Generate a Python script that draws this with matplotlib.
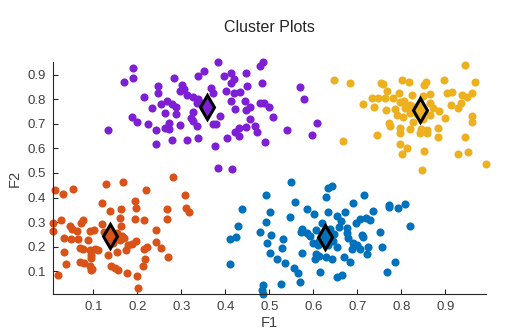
import matplotlib
matplotlib.use('Agg')
import matplotlib.pyplot as plt

# cluster colours (MATLAB-like order)
colors = ['#D95319', '#0072BD', '#7E1FD6', '#EDB120']

# cluster 1 (orange)
x1 = [0.013, 0.032, 0.055, 0.13, 0.168, 0.282, 0.22, 0.308, 0.119, 0.195, 0.198, 0.138, 0.164,
      0.267, 0.311, 0.318, 0.009, 0.009, 0.027, 0.047, 0.051, 0.073, 0.077, 0.064, 0.092, 0.101,
      0.12, 0.161, 0.164, 0.195, 0.215, 0.242, 0.267, 0.034, 0.05, 0.066, 0.089, 0.155, 0.161,
      0.17, 0.18, 0.187, 0.198, 0.242, 0.253, 0.221, 0.215, 0.174, 0.155, 0.034, 0.07, 0.077,
      0.092, 0.103, 0.11, 0.094, 0.134, 0.095, 0.07, 0.08, 0.039, 0.092, 0.098, 0.095, 0.141,
      0.149, 0.156, 0.176, 0.217, 0.212, 0.2, 0.202, 0.27, 0.02, 0.145, 0.125, 0.165]
y1 = [0.43, 0.414, 0.436, 0.456, 0.463, 0.484, 0.43, 0.409, 0.378, 0.385, 0.357, 0.344, 0.353,
      0.353, 0.357, 0.341, 0.297, 0.263, 0.307, 0.283, 0.272, 0.297, 0.307, 0.263, 0.265, 0.27,
      0.294, 0.317, 0.285, 0.313, 0.307, 0.267, 0.313, 0.236, 0.233, 0.233, 0.229, 0.257, 0.229,
      0.236, 0.209, 0.213, 0.222, 0.218, 0.195, 0.199, 0.191, 0.188, 0.177, 0.177, 0.195, 0.191,
      0.188, 0.192, 0.185, 0.168, 0.167, 0.154, 0.14, 0.134, 0.13, 0.123, 0.109, 0.104, 0.12,
      0.113, 0.106, 0.093, 0.15, 0.12, 0.08, 0.032, 0.158, 0.086, 0.215, 0.26, 0.245]

# cluster 2 (blue)
x2 = [0.55, 0.633, 0.643, 0.628, 0.493, 0.715, 0.558, 0.438, 0.501, 0.586, 0.601, 0.633, 0.69,
      0.673, 0.654, 0.662, 0.735, 0.772, 0.772, 0.792, 0.808, 0.819, 0.546, 0.493, 0.43, 0.48,
      0.505, 0.411, 0.425, 0.62, 0.571, 0.575, 0.586, 0.593, 0.607, 0.639, 0.648, 0.658, 0.677,
      0.677, 0.678, 0.698, 0.706, 0.719, 0.729, 0.752, 0.71, 0.714, 0.691, 0.699, 0.688, 0.707,
      0.724, 0.722, 0.756, 0.654, 0.633, 0.611, 0.607, 0.613, 0.63, 0.605, 0.643, 0.67, 0.683,
      0.531, 0.529, 0.495, 0.501, 0.518, 0.535, 0.575, 0.557, 0.565, 0.569, 0.527, 0.486, 0.483,
      0.486, 0.41, 0.615, 0.654, 0.665, 0.768, 0.785, 0.612, 0.645, 0.62, 0.6]
y2 = [0.465, 0.438, 0.447, 0.404, 0.41, 0.41, 0.383, 0.352, 0.343, 0.352, 0.333, 0.34, 0.377,
      0.343, 0.325, 0.306, 0.347, 0.37, 0.36, 0.356, 0.373, 0.285, 0.32, 0.302, 0.285, 0.26,
      0.248, 0.23, 0.238, 0.295, 0.262, 0.271, 0.257, 0.244, 0.268, 0.271, 0.252, 0.279, 0.276,
      0.255, 0.234, 0.298, 0.312, 0.316, 0.309, 0.259, 0.248, 0.238, 0.217, 0.207, 0.19, 0.19,
      0.2, 0.171, 0.198, 0.2, 0.207, 0.207, 0.171, 0.163, 0.157, 0.149, 0.149, 0.16, 0.14,
      0.23, 0.194, 0.214, 0.173, 0.149, 0.136, 0.176, 0.112, 0.095, 0.058, 0.047, 0.045, 0.024,
      0.01, 0.13, 0.099, 0.079, 0.085, 0.099, 0.14, 0.225, 0.225, 0.25, 0.215]

# cluster 3 (purple)
x3 = [0.191, 0.17, 0.191, 0.384, 0.486, 0.479, 0.352, 0.337, 0.284, 0.396, 0.412, 0.42, 0.414,
      0.448, 0.484, 0.45, 0.57, 0.58, 0.246, 0.248, 0.301, 0.306, 0.297, 0.312, 0.327, 0.339,
      0.367, 0.373, 0.402, 0.42, 0.433, 0.412, 0.445, 0.216, 0.253, 0.267, 0.278, 0.288, 0.234,
      0.262, 0.289, 0.327, 0.335, 0.387, 0.422, 0.448, 0.456, 0.479, 0.488, 0.5, 0.509, 0.456,
      0.448, 0.431, 0.422, 0.431, 0.467, 0.471, 0.49, 0.403, 0.377, 0.371, 0.38, 0.323, 0.327,
      0.336, 0.297, 0.273, 0.263, 0.273, 0.242, 0.225, 0.187, 0.199, 0.134, 0.28, 0.314, 0.339,
      0.242, 0.541, 0.609, 0.598, 0.384, 0.415, 0.345, 0.355]
y3 = [0.925, 0.871, 0.885, 0.95, 0.95, 0.936, 0.916, 0.896, 0.885, 0.894, 0.905, 0.881, 0.867,
      0.908, 0.864, 0.854, 0.848, 0.799, 0.854, 0.827, 0.858, 0.84, 0.835, 0.817, 0.81, 0.799,
      0.847, 0.824, 0.835, 0.824, 0.831, 0.794, 0.794, 0.808, 0.78, 0.794, 0.78, 0.767, 0.763,
      0.745, 0.74, 0.749, 0.783, 0.732, 0.759, 0.756, 0.77, 0.786, 0.786, 0.767, 0.726, 0.718,
      0.688, 0.682, 0.668, 0.65, 0.691, 0.668, 0.625, 0.641, 0.61, 0.699, 0.699, 0.722, 0.713,
      0.691, 0.695, 0.702, 0.682, 0.678, 0.675, 0.699, 0.726, 0.706, 0.675, 0.634, 0.634, 0.641,
      0.617, 0.675, 0.702, 0.654, 0.519, 0.515, 0.785, 0.76]

# cluster 4 (yellow)
x4 = [0.945, 0.648, 0.683, 0.755, 0.759, 0.801, 0.818, 0.856, 0.851, 0.898, 0.968, 0.768, 0.733,
      0.746, 0.763, 0.782, 0.795, 0.797, 0.824, 0.849, 0.865, 0.714, 0.737, 0.766, 0.786, 0.806,
      0.808, 0.82, 0.865, 0.873, 0.886, 0.903, 0.915, 0.937, 0.949, 0.96, 0.935, 0.929, 0.912,
      0.79, 0.803, 0.82, 0.827, 0.865, 0.9, 0.96, 0.96, 0.773, 0.774, 0.797, 0.82, 0.845, 0.859,
      0.884, 0.797, 0.842, 0.859, 0.744, 0.884, 0.945, 0.667, 0.797, 0.814, 0.852, 0.801, 0.93,
      0.952, 0.992, 0.846, 0.835, 0.85, 0.83]
y4 = [0.939, 0.878, 0.864, 0.867, 0.862, 0.878, 0.869, 0.869, 0.858, 0.878, 0.869, 0.835, 0.804,
      0.804, 0.804, 0.804, 0.827, 0.79, 0.817, 0.813, 0.821, 0.78, 0.767, 0.756, 0.759, 0.794,
      0.763, 0.776, 0.783, 0.763, 0.753, 0.824, 0.828, 0.817, 0.81, 0.824, 0.783, 0.763, 0.776,
      0.736, 0.729, 0.743, 0.709, 0.736, 0.722, 0.732, 0.709, 0.702, 0.691, 0.682, 0.678, 0.678,
      0.675, 0.682, 0.661, 0.664, 0.661, 0.654, 0.648, 0.645, 0.63, 0.618, 0.6, 0.589, 0.576,
      0.576, 0.584, 0.535, 0.512, 0.74, 0.72, 0.77]

# centroids
cx = [0.138, 0.626, 0.358, 0.842]
cy = [0.242, 0.238, 0.77, 0.756]

plt.rcParams['font.family'] = ['Liberation Sans', 'DejaVu Sans']

fig = plt.figure(figsize=(5.09, 3.33), dpi=100)
ax = fig.add_axes([0.1041, 0.1171, 0.8507, 0.6958])

# points are not clipped at the axes edge, like the reference
for xs, ys, c in zip([x1, x2, x3, x4], [y1, y2, y3, y4], colors):
    ax.scatter(xs, ys, s=34, color=c, linewidths=0, zorder=2, clip_on=False)

for i in range(4):
    ax.plot(cx[i], cy[i], marker='d', markersize=12.5, markerfacecolor=colors[i],
            markeredgecolor='black', markeredgewidth=2.2, linestyle='none', zorder=3)

ax.set_xlim(0.0084, 0.9925)
ax.set_ylim(0.008, 0.95)
ax.set_xticks([0.1, 0.2, 0.3, 0.4, 0.5, 0.6, 0.7, 0.8, 0.9])
ax.set_yticks([0.1, 0.2, 0.3, 0.4, 0.5, 0.6, 0.7, 0.8, 0.9])
ax.set_xticklabels(['0.1', '0.2', '0.3', '0.4', '0.5', '0.6', '0.7', '0.8', '0.9'])
ax.set_yticklabels(['0.1', '0.2', '0.3', '0.4', '0.5', '0.6', '0.7', '0.8', '0.9'])

ax.spines['top'].set_visible(False)
ax.spines['right'].set_visible(False)
for s in ['left', 'bottom']:
    ax.spines[s].set_color('#262626')
    ax.spines[s].set_linewidth(0.8)
ax.tick_params(direction='in', length=3.5, width=0.8, color='#262626',
               labelsize=9.5, labelcolor='#404040', pad=5)

ax.set_xlabel('F1', fontsize=10.5, color='#404040', labelpad=2)
ax.set_ylabel('F2', fontsize=10.5, color='#404040', labelpad=4)
ax.set_title('Cluster Plots', fontsize=11.5, color='#262626', pad=22)

fig.savefig('out.png', dpi=100)
